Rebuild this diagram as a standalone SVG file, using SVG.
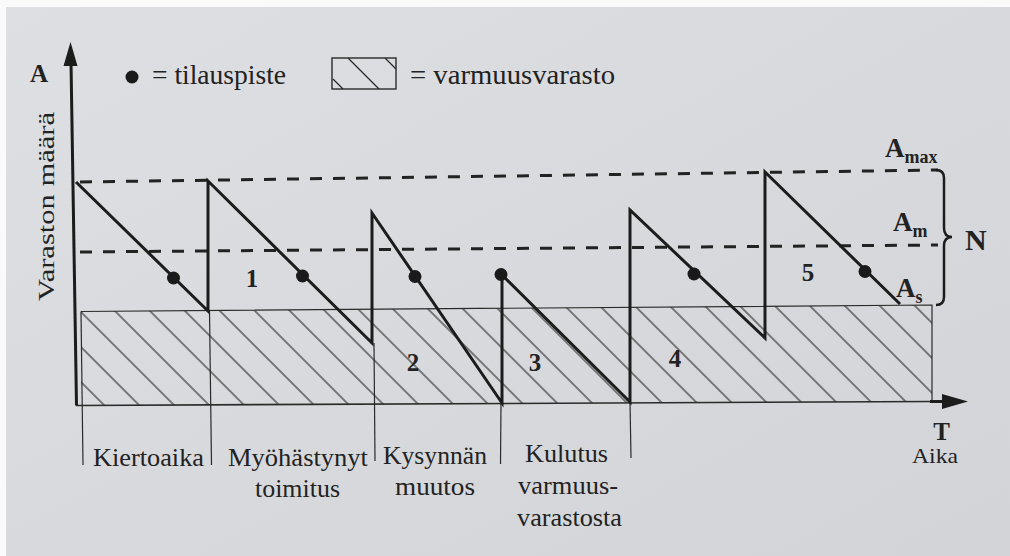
<svg xmlns="http://www.w3.org/2000/svg" width="1010" height="556" viewBox="0 0 1010 556">
  <defs>
    <linearGradient id="paper" x1="0" y1="0" x2="1" y2="1">
      <stop offset="0" stop-color="#dedfe2"/>
      <stop offset="1" stop-color="#d2d4d7"/>
    </linearGradient>
    <pattern id="hatch" patternUnits="userSpaceOnUse" width="24.75" height="24.75" patternTransform="rotate(-45)">
      <line x1="9.9" y1="-1" x2="9.9" y2="26" stroke="#333" stroke-width="1.2"/>
    </pattern>
    <style>
      text { font-family: "Liberation Serif", "DejaVu Serif", "Times New Roman", serif; fill: #222; }
      .b { font-weight: bold; }
      .thick { fill: none; stroke: #1c1c1c; stroke-width: 3; stroke-linejoin: miter; }
      .thin { fill: none; stroke: #2a2a2a; stroke-width: 1.2; }
      .dash { fill: none; stroke: #222; stroke-width: 3; stroke-dasharray: 12 11; }
      .dot { fill: #1a1a1a; }
    </style>
  </defs>

  <rect x="0" y="0" width="1010" height="556" fill="#fafafa"/>
  <rect x="6" y="7" width="1004" height="549" fill="url(#paper)"/>

  <g id="safety-stock">
    <polygon points="81,311.5 932,305 932,401.5 81,405.5" fill="url(#hatch)"/>
    <polyline class="thin" points="81,311.5 932,305 932,401.5"/>
  </g>

  <g id="dividers">
    <line class="thin" x1="81" y1="311.5" x2="83" y2="465"/>
    <line class="thin" x1="209.5" y1="311" x2="211.5" y2="465"/>
    <line class="thin" x1="374" y1="343" x2="375" y2="461"/>
    <line class="thin" x1="501" y1="403" x2="500.5" y2="464"/>
    <line class="thin" x1="630" y1="402" x2="631" y2="458"/>
  </g>

  <g id="levels">
    <line class="dash" x1="80" y1="182" x2="938" y2="170"/>
    <line class="dash" x1="80" y1="252" x2="938" y2="245"/>
  </g>

  <g id="axes">
    <line x1="76.5" y1="405.5" x2="71" y2="62" stroke="#1c1c1c" stroke-width="3"/>
    <polygon points="70.5,42 63.5,66 77.5,66" fill="#1c1c1c"/>
    <line x1="76" y1="405.5" x2="932" y2="401.5" stroke="#2a2a2a" stroke-width="1.6"/>
    <line x1="930" y1="401.5" x2="945" y2="401.5" stroke="#1c1c1c" stroke-width="3"/>
    <polygon points="968,401.5 942,394 942,409" fill="#1c1c1c"/>
  </g>

  <g id="stock-curve">
    <polyline class="thick" points="76,182 208,311 208,181 372,343 372,213 502,403 502,275 630,402 630,210 765,338 765,172 900,304"/>
  </g>

  <g id="order-points">
    <circle class="dot" cx="173.5" cy="278" r="6.5"/>
    <circle class="dot" cx="302.5" cy="276" r="6.5"/>
    <circle class="dot" cx="415" cy="276.5" r="6.5"/>
    <circle class="dot" cx="501" cy="274.5" r="6.5"/>
    <circle class="dot" cx="694" cy="274" r="6.5"/>
    <circle class="dot" cx="865" cy="271.5" r="6.5"/>
  </g>

  <g id="cycle-numbers">
    <text class="b" x="252" y="287" font-size="25" text-anchor="middle">1</text>
    <text class="b" x="413" y="371" font-size="25" text-anchor="middle">2</text>
    <text class="b" x="535" y="371" font-size="25" text-anchor="middle">3</text>
    <text class="b" x="675" y="367" font-size="25" text-anchor="middle">4</text>
    <text class="b" x="808" y="281" font-size="25" text-anchor="middle">5</text>
  </g>

  <g id="legend">
    <text class="b" x="30" y="82" font-size="25">A</text>
    <circle class="dot" cx="132" cy="77" r="6.5"/>
    <text x="152" y="84" font-size="27" textLength="134" lengthAdjust="spacingAndGlyphs">= tilauspiste</text>
    <rect x="332" y="58" width="64" height="31" fill="none" stroke="#2a2a2a" stroke-width="1.4"/>
    <line class="thin" x1="333" y1="79" x2="343" y2="89"/>
    <line class="thin" x1="348" y1="58" x2="379" y2="89"/>
    <line class="thin" x1="385" y1="58" x2="396" y2="69"/>
    <text x="410" y="84" font-size="27" textLength="205" lengthAdjust="spacingAndGlyphs">= varmuusvarasto</text>
  </g>

  <g id="y-label">
    <text x="0" y="0" font-size="23" transform="translate(54,301) rotate(-90)" textLength="189" lengthAdjust="spacingAndGlyphs">Varaston määrä</text>
  </g>

  <g id="level-labels">
    <text class="b" x="885" y="157" font-size="27">A<tspan font-size="18" dy="6">max</tspan></text>
    <text class="b" x="893" y="231" font-size="27">A<tspan font-size="18" dy="6">m</tspan></text>
    <text class="b" x="896" y="297" font-size="27">A<tspan font-size="18" dy="6">s</tspan></text>
    <path class="thick" style="stroke-width:2.5" d="M936 170 Q944 170 944 178 L944 228 Q944 237 952 237 Q944 237 944 246 L944 297 Q944 305 936 305"/>
    <text class="b" x="965" y="250" font-size="30">N</text>
  </g>

  <g id="time-labels">
    <text class="b" x="941.5" y="440" font-size="25" text-anchor="middle">T</text>
    <text x="912" y="463" font-size="22" textLength="46" lengthAdjust="spacingAndGlyphs">Aika</text>
    <text x="93" y="466" font-size="25" textLength="111" lengthAdjust="spacingAndGlyphs">Kiertoaika</text>
    <text x="228" y="466" font-size="25" textLength="140" lengthAdjust="spacingAndGlyphs">Myöhästynyt</text>
    <text x="255" y="497" font-size="25" textLength="85" lengthAdjust="spacingAndGlyphs">toimitus</text>
    <text x="383" y="464" font-size="25" textLength="104" lengthAdjust="spacingAndGlyphs">Kysynnän</text>
    <text x="395" y="495" font-size="25" textLength="80" lengthAdjust="spacingAndGlyphs">muutos</text>
    <text x="525" y="462" font-size="25" textLength="83" lengthAdjust="spacingAndGlyphs">Kulutus</text>
    <text x="518" y="494" font-size="25" textLength="100" lengthAdjust="spacingAndGlyphs">varmuus-</text>
    <text x="517" y="526" font-size="25" textLength="105" lengthAdjust="spacingAndGlyphs">varastosta</text>
  </g>
</svg>
